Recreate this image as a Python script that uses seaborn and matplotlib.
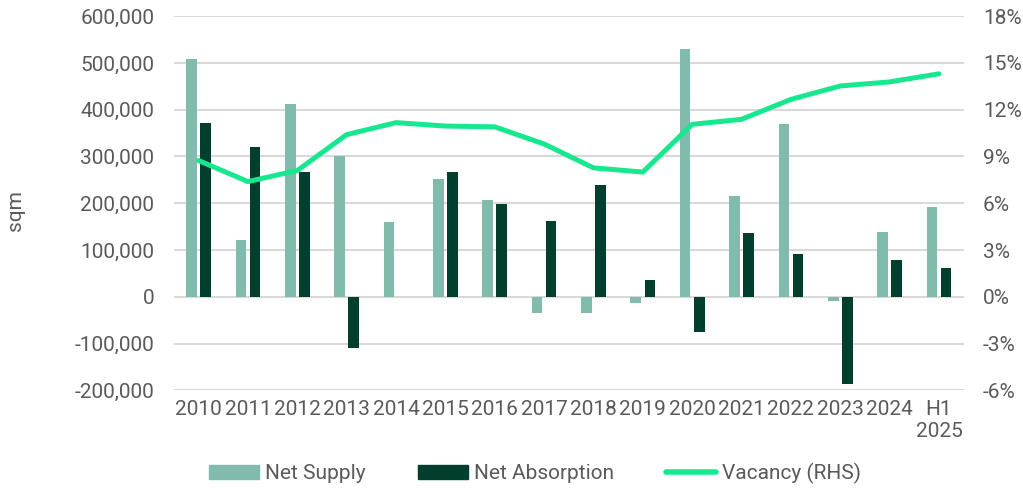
import matplotlib
matplotlib.use("Agg")
import matplotlib.pyplot as plt
import matplotlib.ticker as mticker
from matplotlib.patches import Patch
from matplotlib.lines import Line2D
import seaborn as sns
import pandas as pd

categories = ["2010", "2011", "2012", "2013", "2014", "2015", "2016", "2017",
              "2018", "2019", "2020", "2021", "2022", "2023", "2024", "H1\n2025"]
net_supply = [508000, 122000, 413000, 302000, 159000, 251000, 208000, -34000,
              -34000, -14000, 529000, 216000, 369000, -9000, 139000, 193000]
net_absorption = [371000, 321000, 267000, -110000, 0, 266000, 199000, 161000,
                  240000, 36000, -76000, 136000, 92000, -186000, 79000, 62000]
vacancy = [8.74, 7.39, 8.1, 10.4, 11.17, 10.95, 10.9, 9.8,
           8.27, 8.0, 11.06, 11.38, 12.66, 13.52, 13.78, 14.3]

C_SUPPLY = "#80bbad"
C_ABS = "#003f2d"
C_VAC = "#17e88f"
TXT = "#5a5a5a"
FS = 15

sns.set_theme(style="white")
plt.rcParams["font.family"] = ["Roboto", "DejaVu Sans"]

df = pd.DataFrame({
    "cat": categories * 2,
    "value": net_supply + net_absorption,
    "series": ["Net Supply"] * len(categories) + ["Net Absorption"] * len(categories),
})

fig, ax = plt.subplots(figsize=(10.23, 4.88), dpi=100)
fig.subplots_adjust(left=0.170, right=0.942, top=0.967, bottom=0.2)

sns.barplot(data=df, x="cat", y="value", hue="series", order=categories,
            hue_order=["Net Supply", "Net Absorption"],
            palette=[C_SUPPLY, C_ABS], width=0.57, gap=0.24,
            ax=ax, legend=False, saturation=1, linewidth=0)

ax.set_ylim(-200000, 600000)
ax.set_yticks(range(-200000, 600001, 100000))
ax.yaxis.set_major_formatter(mticker.FuncFormatter(lambda v, p: f"{int(v):,}"))
ax.set_xlim(-0.5, len(categories) - 0.5)
ax.grid(axis="y", color="#d9d9d9", linewidth=1.5)
ax.set_axisbelow(True)
ax.set_xlabel("")
ax.set_ylabel("sqm", fontsize=FS, color=TXT)
ax.yaxis.set_label_coords(-0.188, 0.48)
ax.tick_params(axis="y", labelsize=FS, colors=TXT, length=0, pad=14)
ax.tick_params(axis="x", labelsize=FS, colors=TXT, length=0, pad=7)
for s in ax.spines.values():
    s.set_visible(False)

ax2 = ax.twinx()
sns.lineplot(x=list(range(len(categories))), y=vacancy, ax=ax2,
             color=C_VAC, linewidth=3.6, legend=False, solid_capstyle="round")
ax2.set_ylim(-6, 18)
ax2.set_yticks(range(-6, 19, 3))
ax2.yaxis.set_major_formatter(mticker.FuncFormatter(lambda v, p: f"{int(v)}%"))
ax2.tick_params(axis="y", labelsize=FS, colors=TXT, length=0, pad=14)
ax2.grid(False)
for s in ax2.spines.values():
    s.set_visible(False)

handles = [Patch(color=C_SUPPLY, label="Net Supply"),
           Patch(color=C_ABS, label="Net Absorption"),
           Line2D([0], [0], color=C_VAC, linewidth=4, solid_capstyle="round",
                  label="Vacancy (RHS)")]
leg = fig.legend(handles=handles, loc="lower center", ncol=3, frameon=False,
                 fontsize=FS, bbox_to_anchor=(0.523, -0.03), handlelength=2.4,
                 handleheight=0.7, columnspacing=2.5, handletextpad=0.3)
for t in leg.get_texts():
    t.set_color(TXT)

fig.savefig("out.png", dpi=100)
